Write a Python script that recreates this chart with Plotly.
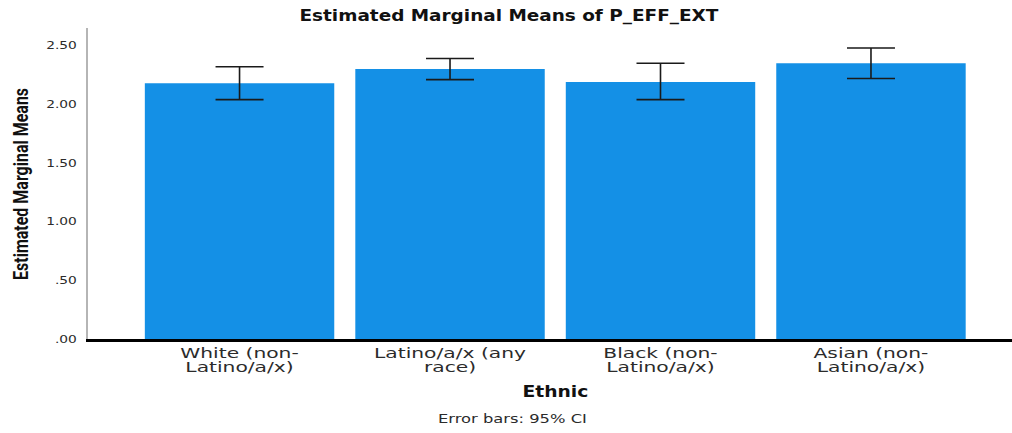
import plotly.graph_objects as go

# Estimated marginal means of P_EFF_EXT by ethnic group, with 95% CI bounds
categories = [
    "White (non-<br>Latino/a/x)",
    "Latino/a/x (any<br>race)",
    "Black (non-<br>Latino/a/x)",
    "Asian (non-<br>Latino/a/x)",
]
means = [2.18, 2.30, 2.19, 2.35]
ci_upper = [2.32, 2.39, 2.35, 2.48]
ci_lower = [2.04, 2.21, 2.04, 2.22]

tick_vals = [0, 0.5, 1.0, 1.5, 2.0, 2.5]
tick_text = [".00", ".50", "1.00", "1.50", "2.00", "2.50"]

err_plus = [u - m for u, m in zip(ci_upper, means)]
err_minus = [m - l for m, l in zip(means, ci_lower)]

BAR = "#1490e6"
TXT = "#2b2b2b"

fig = go.Figure(
    go.Bar(
        x=list(range(len(categories))),
        y=means,
        width=0.9,
        marker=dict(color=BAR, line=dict(width=0)),
        error_y=dict(
            type="data",
            symmetric=False,
            array=err_plus,
            arrayminus=err_minus,
            color="#1a1a1a",
            thickness=1.6,
            width=24,
        ),
        hoverinfo="skip",
    )
)

fig.update_layout(
    width=1012,
    height=433,
    margin=dict(l=88, r=0, t=28, b=94),
    plot_bgcolor="white",
    paper_bgcolor="white",
    showlegend=False,
    font=dict(family="DejaVu Sans", color=TXT),
    title=dict(
        text="<b>Estimated Marginal Means of P_EFF_EXT</b>",
        x=0.503,
        xanchor="center",
        y=1 - 16 / 433,
        yanchor="middle",
        font=dict(family="DejaVu Sans", size=15, color="#111"),
    ),
)

fig.update_xaxes(
    range=[-0.72, 3.67],
    tickmode="array",
    tickvals=list(range(len(categories))),
    ticktext=categories,
    tickfont=dict(family="DejaVu Sans", size=13.5, color=TXT),
    showgrid=False,
    zeroline=False,
    showline=True,
    linecolor="black",
    linewidth=2.5,
    ticks="",
    fixedrange=True,
)

fig.update_yaxes(
    range=[0, 2.65],
    tickmode="array",
    tickvals=tick_vals,
    ticktext=tick_text,
    tickfont=dict(family="DejaVu Sans", size=11, color=TXT),
    showgrid=False,
    zeroline=False,
    showline=True,
    linecolor="#b5b5b5",
    linewidth=2,
    ticks="",
    ticklabelstandoff=7,
    fixedrange=True,
)

# axis titles and footnote
fig.add_annotation(
    text="<b>Estimated Marginal Means</b>",
    xref="paper", yref="paper",
    x=(20 - 88) / 924, y=(339 - 184) / 311,
    textangle=-90, showarrow=False,
    xanchor="center", yanchor="middle",
    font=dict(family="Roboto", size=16, color="#111"),
)
fig.add_annotation(
    text="<b>Ethnic</b>",
    xref="x", yref="paper",
    x=1.5, y=-(392 - 339) / 311,
    showarrow=False, xanchor="center", yanchor="middle",
    font=dict(family="DejaVu Sans", size=15, color="#111"),
)
fig.add_annotation(
    text="Error bars: 95% CI",
    xref="paper", yref="paper",
    x=(512 - 88) / 924, y=-(419 - 339) / 311,
    showarrow=False, xanchor="center", yanchor="middle",
    font=dict(family="DejaVu Sans", size=11.5, color=TXT),
)

# Wide-set lettering: stretch the text horizontally around its anchor,
# and tighten the leading of the two-line category labels.
stretch_js = """
var gd = document.getElementById('{plot_id}');
function widen(el, s, mode) {
  var cur = el.getAttribute('transform') || '';
  var done = el.getAttribute('data-wide');
  if (done !== null && done === cur) return;
  var bb = el.getBBox();
  var t;
  if (mode === 'v') {
    var cy = bb.y + bb.height / 2;
    t = cur + ' translate(0,' + cy + ') scale(1,' + s + ') translate(0,' + (-cy) + ')';
  } else {
    var cx = mode === 'r' ? bb.x + bb.width : bb.x + bb.width / 2;
    t = cur + ' translate(' + cx + ',0) scale(' + s + ',1) translate(' + (-cx) + ',0)';
  }
  el.setAttribute('transform', t);
  el.setAttribute('data-wide', t);
}
function apply() {
  gd.querySelectorAll('.xtick text').forEach(function (el) {
    var lines = el.querySelectorAll('tspan.line');
    lines.forEach(function (ln, i) { if (i > 0) ln.setAttribute('dy', (i * 1.05) + 'em'); });
    widen(el, 1.5, 'c');
  });
  gd.querySelectorAll('.ytick text').forEach(function (el) { widen(el, 1.25, 'r'); });
  gd.querySelectorAll('.gtitle').forEach(function (el) { widen(el, 1.23, 'c'); });
  var ann = gd.querySelectorAll('.annotation-text');
  if (ann.length >= 3) {
    widen(ann[0], 1.3, 'v');
    widen(ann[1], 1.25, 'c');
    widen(ann[2], 1.42, 'c');
  }
}
apply();
gd.on('plotly_afterplot', apply);
"""

fig.write_html("out.html", post_script=stretch_js)
